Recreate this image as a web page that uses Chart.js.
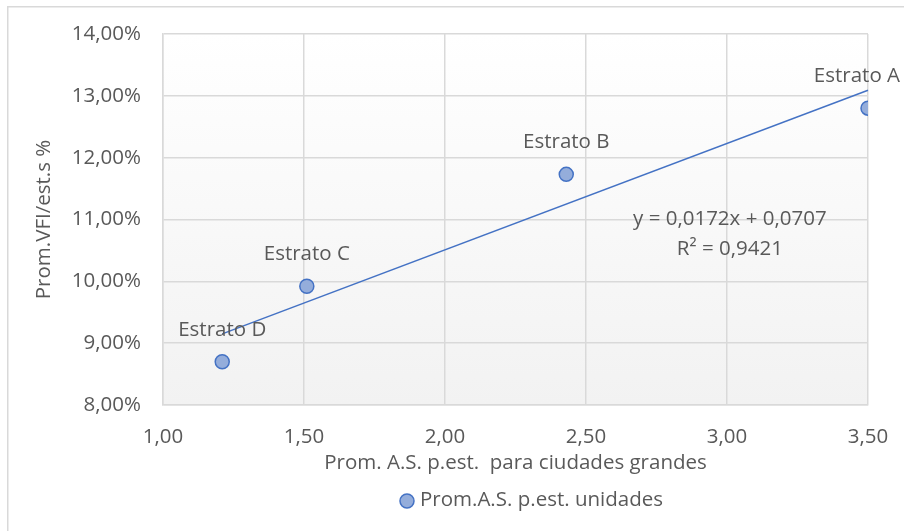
<!DOCTYPE html>
<html>
<head>
<meta charset="utf-8">
<script src="https://cdn.jsdelivr.net/npm/chart.js@4/dist/chart.umd.min.js"></script>
<style>
  html, body { margin: 0; padding: 0; background: #fff; }
  #wrap { width: 904px; height: 531px; position: relative; }
</style>
</head>
<body>
<div id="wrap"><canvas id="chart" width="904" height="531"></canvas></div>
<script>
const ESTRATOS = ["Estrato A", "Estrato B", "Estrato C", "Estrato D"];
const AS_VALUES = [3.50, 2.43, 1.51, 1.21];
const VFI_VALUES = [12.80, 11.73, 9.92, 8.70];
const TREND_X = [1.21, 3.50];
const TREND_Y = [9.15, 13.09];
const EQ_LINES = ["y = 0,0172x + 0,0707", "R² = 0,9421"];
const SERIES_NAME = "Prom.A.S. p.est. unidades";

const FONT = "'Open Sans', sans-serif";
const FS = 20.5;
const TXT = '#595959', GRID = '#d9d9d9';
const PT_FILL = '#94addb', PT_LINE = '#4472c4';

const fmt = (v, d) => v.toFixed(d).replace('.', ',');

// fondo degradado + marco exterior
const backdrop = {
    id: 'backdrop',
    beforeDraw(chart) {
        const { ctx, chartArea: a } = chart;
        ctx.save();
        ctx.fillStyle = '#fff';
        ctx.fillRect(0, 0, chart.width, chart.height);
        const g = ctx.createLinearGradient(0, a.top, 0, a.bottom);
        g.addColorStop(0, '#ffffff');
        g.addColorStop(1, '#f2f2f2');
        ctx.fillStyle = g;
        ctx.fillRect(a.left, a.top, a.right - a.left, a.bottom - a.top);
        ctx.strokeStyle = GRID;
        ctx.lineWidth = 1.5;
        ctx.beginPath();
        ctx.moveTo(7.75, chart.height);
        ctx.lineTo(7.75, 6.75);
        ctx.lineTo(chart.width, 6.75);
        ctx.stroke();
        ctx.restore();
    }
};

// etiquetas de puntos, ecuación y leyenda
const labels = {
    id: 'labels',
    afterDatasetsDraw(chart) {
        const { ctx, chartArea: a, scales: { x, y } } = chart;
        ctx.save();
        ctx.font = `${FS}px ${FONT}`;
        ctx.fillStyle = TXT;
        ctx.textAlign = 'center';
        ctx.textBaseline = 'middle';
        ESTRATOS.forEach((name, i) => {
            let px = x.getPixelForValue(AS_VALUES[i]);
            const py = y.getPixelForValue(VFI_VALUES[i]) - 32;
            const w = ctx.measureText(name).width;
            if (px + w / 2 > chart.width - 4) px = chart.width - 4 - w / 2;
            ctx.fillText(name, px, py);
        });
        const ex = x.getPixelForValue(3.01), ey = y.getPixelForValue(11.0);
        ctx.fillText(EQ_LINES[0], ex, ey);
        ctx.fillText(EQ_LINES[1], ex, ey + 30);

        // leyenda
        const tw = ctx.measureText(SERIES_NAME).width;
        const lx = (a.left + a.right) / 2 + 17 - (tw + 22) / 2, ly = 500;
        ctx.beginPath();
        ctx.arc(lx + 7, ly + 1, 7, 0, Math.PI * 2);
        ctx.fillStyle = PT_FILL;
        ctx.fill();
        ctx.lineWidth = 1.5;
        ctx.strokeStyle = PT_LINE;
        ctx.stroke();
        ctx.fillStyle = TXT;
        ctx.textAlign = 'left';
        ctx.fillText(SERIES_NAME, lx + 20, ly);
        ctx.restore();
    }
};

new Chart(document.getElementById('chart'), {
    type: 'scatter',
    data: {
        datasets: [
            {
                label: SERIES_NAME,
                data: AS_VALUES.map((v, i) => ({ x: v, y: VFI_VALUES[i] })),
                backgroundColor: PT_FILL,
                borderColor: PT_LINE,
                borderWidth: 1.5,
                pointRadius: 7,
                pointHoverRadius: 7,
                order: 1
            },
            {
                label: 'trend',
                type: 'line',
                data: TREND_X.map((v, i) => ({ x: v, y: TREND_Y[i] })),
                borderColor: PT_LINE,
                borderWidth: 1.5,
                pointRadius: 0,
                fill: false,
                clip: false,
                order: 2
            }
        ]
    },
    options: {
        responsive: false,
        animation: false,
        layout: { padding: { top: 34, right: 36, left: 0, bottom: 52 } },
        plugins: {
            legend: { display: false },
            tooltip: { enabled: false }
        },
        scales: {
            x: {
                type: 'linear',
                min: 1, max: 3.5,
                afterFit: s => { s.height = 74; s.paddingRight = 0; s.paddingLeft = 0; },
                ticks: { stepSize: 0.5, color: TXT, font: { family: FONT, size: FS }, padding: 20, callback: v => fmt(v, 2) },
                grid: { color: GRID, lineWidth: 1.5, drawTicks: false },
                border: { color: GRID, width: 1.5 },
                title: { display: true, text: 'Prom. A.S. p.est.  para ciudades grandes', color: TXT, font: { family: FONT, size: FS }, padding: { top: 0 } }
            },
            y: {
                min: 8, max: 14,
                afterFit: s => { s.width = 163; s.paddingTop = 0; s.paddingBottom = 0; },
                ticks: { stepSize: 1, color: TXT, font: { family: FONT, size: FS }, padding: 22, callback: v => fmt(v, 2) + '%' },
                grid: { color: GRID, lineWidth: 1.5, drawTicks: false },
                border: { color: GRID, width: 1.5 },
                title: { display: true, text: 'Prom.VFI/est.s %', color: TXT, font: { family: FONT, size: FS }, padding: { bottom: 0, top: 32 } }
            }
        }
    },
    plugins: [backdrop, labels]
});
</script>
</body>
</html>
